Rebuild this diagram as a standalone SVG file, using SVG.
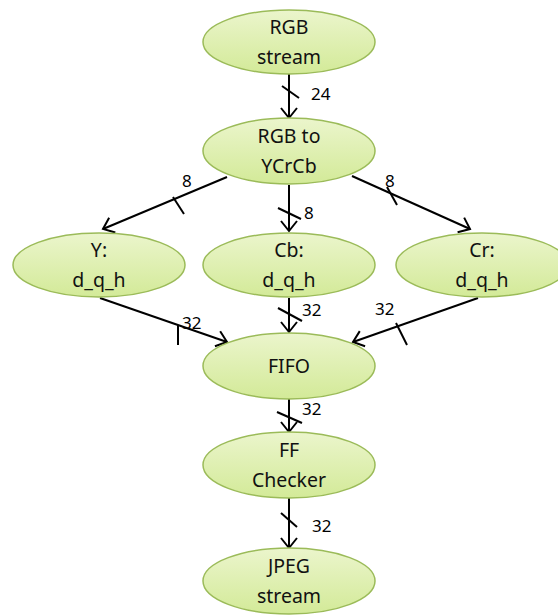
<svg xmlns="http://www.w3.org/2000/svg" width="558" height="615" viewBox="0 0 558 615">
<defs>
<linearGradient id="g" x1="0" y1="0" x2="0" y2="1">
<stop offset="0" stop-color="#ebf5cc"/>
<stop offset="1" stop-color="#d3ea98"/>
</linearGradient>
<marker id="arr" markerUnits="userSpaceOnUse" markerWidth="24" markerHeight="24" refX="12" refY="12" orient="auto" viewBox="0 0 24 24">
<path d="M2,4 L12,12 L2,20" fill="none" stroke="#000" stroke-width="2"/>
</marker>
<style>
.n ellipse{fill:url(#g);stroke:#9bbb59;stroke-width:1.5}
.n text{font-family:"Noto Sans","Liberation Sans",sans-serif;font-size:19.5px;fill:#111;text-anchor:middle}
.c line{stroke:#000;stroke-width:2}
.c .e{marker-end:url(#arr)}
.c text{font-family:"Noto Sans","Liberation Sans",sans-serif;font-size:17px;fill:#000}
</style>
</defs>
<rect width="558" height="615" fill="#fff"/>
<g class="c" id="connectors">
<line class="e" x1="289" y1="74" x2="289" y2="118"/>
<line x1="282" y1="86" x2="299" y2="98"/>
<text x="311" y="100">24</text>
<line class="e" x1="227" y1="177" x2="103" y2="229"/>
<line x1="173" y1="197" x2="184" y2="214"/>
<text x="182" y="187">8</text>
<line class="e" x1="289" y1="185" x2="289" y2="231"/>
<line x1="278" y1="208" x2="301" y2="219"/>
<text x="304" y="219">8</text>
<line class="e" x1="352" y1="176" x2="470" y2="229"/>
<line x1="387" y1="187" x2="397" y2="205"/>
<text x="385" y="187">8</text>
<line class="e" x1="100" y1="298" x2="227" y2="342"/>
<line x1="178" y1="325" x2="178" y2="345"/>
<text x="182" y="329">32</text>
<line class="e" x1="289" y1="298" x2="289" y2="332"/>
<line x1="278" y1="308" x2="302" y2="321"/>
<text x="302" y="316">32</text>
<line class="e" x1="478" y1="298" x2="353" y2="342"/>
<line x1="396" y1="323" x2="407" y2="345"/>
<text x="375" y="315">32</text>
<line class="e" x1="289" y1="399" x2="289" y2="432"/>
<line x1="277" y1="412" x2="302" y2="423"/>
<text x="302" y="415">32</text>
<line class="e" x1="289" y1="498" x2="289" y2="548"/>
<line x1="281" y1="513" x2="297" y2="527"/>
<text x="312" y="532">32</text>
</g>
<g class="n" id="rgb_stream"><ellipse cx="289" cy="42" rx="86" ry="32"/><text x="289" y="34">RGB</text><text x="289" y="64">stream</text></g>
<g class="n" id="rgb_to_ycrcb"><ellipse cx="289" cy="151" rx="86" ry="33"/><text x="289" y="143">RGB to</text><text x="289" y="173">YCrCb</text></g>
<g class="n" id="y_dqh"><ellipse cx="99" cy="265" rx="86" ry="32"/><text x="99" y="257">Y:</text><text x="99" y="287">d_q_h</text></g>
<g class="n" id="cb_dqh"><ellipse cx="289" cy="265" rx="86" ry="32"/><text x="289" y="257">Cb:</text><text x="289" y="287">d_q_h</text></g>
<g class="n" id="cr_dqh"><ellipse cx="482" cy="265" rx="86" ry="32"/><text x="482" y="257">Cr:</text><text x="482" y="287">d_q_h</text></g>
<g class="n" id="fifo"><ellipse cx="289" cy="366" rx="86" ry="33"/><text x="289" y="373">FIFO</text></g>
<g class="n" id="ff_checker"><ellipse cx="289" cy="465" rx="86" ry="33"/><text x="289" y="457">FF</text><text x="289" y="487">Checker</text></g>
<g class="n" id="jpeg_stream"><ellipse cx="289" cy="581" rx="86" ry="33"/><text x="289" y="573">JPEG</text><text x="289" y="603">stream</text></g>
</svg>
